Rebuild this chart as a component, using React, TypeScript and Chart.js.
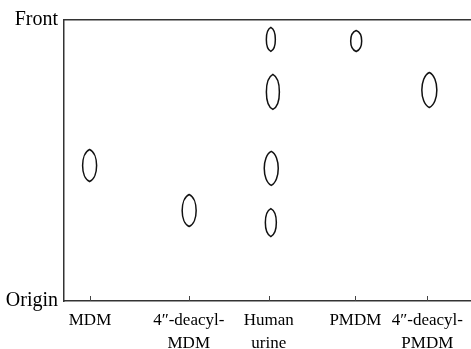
import React, { useEffect, useRef } from "react";
import { Chart, registerables } from "chart.js";

Chart.register(...registerables);

// Lanes (x axis categories) and their positions across the plate (0–100)
const LANE_LABELS: string[][] = [
  ["MDM"],
  ["4″-deacyl-", "MDM"],
  ["Human", "urine"],
  ["PMDM"],
  ["4″-deacyl-", "PMDM"],
];
const LANE_POS = [6.4, 30.7, 50.4, 71.7, 89.4];

// Spots: lane position and Rf value (0 = origin, 1 = front)
const SPOT_X = [6.3, 30.8, 50.9, 51.4, 51.0, 50.9, 71.9, 89.9];
const SPOT_RF = [0.482, 0.322, 0.931, 0.744, 0.472, 0.279, 0.925, 0.751];

// Y axis labels
const Y_TICKS = [0, 1];
const Y_LABELS = ["Origin", "Front"];

// Spot drawing sizes (pixels): width, height
const SPOT_SIZE: [number, number][] = [
  [14, 32], [14, 32], [9, 24], [13, 35], [14, 34], [11, 28], [11, 21], [15, 35],
];

const FONT = "'Liberation Serif', 'Times New Roman', serif";

const spotPlugin = {
  id: "spots",
  afterDatasetsDraw(chart: any) {
    const ctx = chart.ctx;
    const meta = chart.getDatasetMeta(0);
    ctx.save();
    ctx.strokeStyle = "#111";
    ctx.lineWidth = 1.5;
    meta.data.forEach((pt: any, i: number) => {
      const [w, h] = SPOT_SIZE[i];
      const rx = w / 2, ry = h / 2;
      const k = 4 / 3, a = 0.74;
      const x = pt.x, y = pt.y;
      ctx.beginPath();
      ctx.moveTo(x, y - ry);
      ctx.bezierCurveTo(x + k * rx, y - a * ry, x + k * rx, y + a * ry, x, y + ry);
      ctx.bezierCurveTo(x - k * rx, y + a * ry, x - k * rx, y - a * ry, x, y - ry);
      ctx.closePath();
      ctx.stroke();
    });
    // inward tick marks on the bottom axis
    const xs = chart.scales.x;
    const bottom = chart.chartArea.bottom;
    ctx.strokeStyle = "#444";
    ctx.lineWidth = 1;
    LANE_POS.forEach((v) => {
      const px = Math.round(xs.getPixelForValue(v)) + 0.5;
      ctx.beginPath();
      ctx.moveTo(px, bottom);
      ctx.lineTo(px, bottom - 5);
      ctx.stroke();
    });
    ctx.restore();
  },
};

export default function App() {
  const ref = useRef<HTMLCanvasElement>(null);
  useEffect(() => {
    document.body.style.margin = "0";
    const canvas = ref.current!;
    const chart = new Chart(canvas, {
      type: "scatter",
      data: {
        datasets: [
          {
            data: SPOT_X.map((x, i) => ({ x, y: SPOT_RF[i] })),
            pointRadius: 0,
            pointHoverRadius: 0,
            showLine: false,
          },
        ],
      },
      options: {
        animation: false,
        responsive: false,
        devicePixelRatio: 1,
        layout: { padding: { top: 20, left: 0, right: 0, bottom: 0 } },
        plugins: { legend: { display: false }, tooltip: { enabled: false } },
        events: [],
        scales: {
          x: {
            type: "linear",
            position: "bottom",
            min: 0,
            max: 100,
            afterBuildTicks: (s: any) => {
              s.ticks = LANE_POS.map((value) => ({ value }));
            },
            afterFit: (s: any) => {
              s.height = 48;
            },
            ticks: {
              autoSkip: false,
              maxRotation: 0,
              padding: 8,
              color: "#000",
              font: { family: FONT, size: 17, lineHeight: 1.35 },
              callback: (_v: any, i: number) => LANE_LABELS[i],
            },
            grid: { display: false, drawTicks: false },
            border: { display: true, color: "#333", width: 1.5 },
          },
          xTop: {
            type: "linear",
            position: "top",
            min: 0,
            max: 100,
            ticks: { display: false },
            grid: { display: false, drawTicks: false },
            border: { display: true, color: "#333", width: 1.5 },
            afterFit: (s: any) => {
              s.height = 0;
            },
          },
          y: {
            type: "linear",
            min: 0,
            max: 1,
            afterBuildTicks: (s: any) => {
              s.ticks = Y_TICKS.map((value) => ({ value }));
            },
            afterFit: (s: any) => {
              s.width = 64;
            },
            ticks: {
              padding: 6,
              color: "#000",
              font: { family: FONT, size: 20 },
              callback: (_v: any, i: number) => Y_LABELS[i],
            },
            grid: { display: false, drawTicks: false },
            border: { display: true, color: "#333", width: 1.5 },
          },
        },
      },
      plugins: [spotPlugin],
    });
    return () => chart.destroy();
  }, []);
  return (
    <canvas
      ref={ref}
      width={471}
      height={349}
      style={{ display: "block", width: 471, height: 349 }}
    />
  );
}
